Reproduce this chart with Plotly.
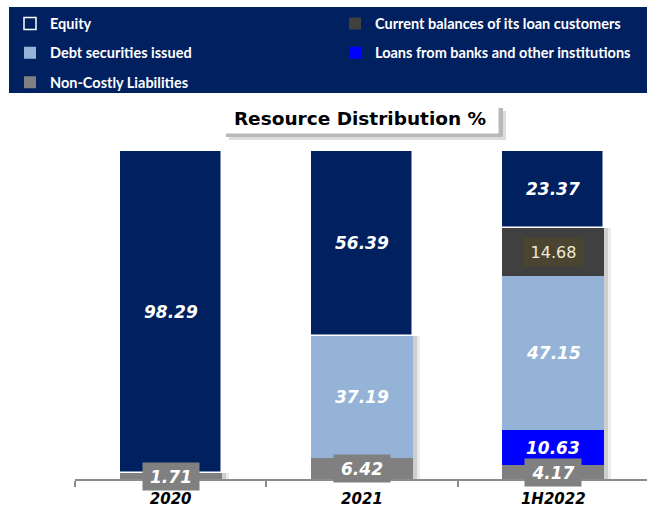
import numpy as np
import plotly.graph_objects as go

# Resource distribution (% of total resources), stacked bottom to top
periods = ["2020", "2021", "1H2022"]
non_costly = [1.71, 6.42, 4.17]
loans_banks = [0.0, 0.0, 10.63]
debt_securities = [0.0, 37.19, 47.15]
current_balances = [0.0, 0.0, 14.68]
equity = [98.29, 56.39, 23.37]

series_names = [
    "Non-Costly Liabilities",
    "Loans from banks and other institutions",
    "Debt securities issued",
    "Current balances of its loan customers",
    "Equity",
]
series_values = [non_costly, loans_banks, debt_securities, current_balances, equity]

NAVY = "#002060"
colors = ["#808080", "#0000ff", "#95b3d7", "#404040", NAVY]
legend_of = ["legend", "legend2", "legend", "legend2", "legend"]
legend_rank = [3, 2, 2, 1, 1]

# page geometry (px)
W, H = 647, 508
ML, MR, MT, MB = 75, 0, 151, 29
PW, PH = W - ML - MR, H - MT - MB
X_RANGE = [-0.5, 2.49]
UPX = (X_RANGE[1] - X_RANGE[0]) / PW  # axis units per pixel
BAR_W = 0.533


def paper_x(px):
    return (px - ML) / PW


def paper_y(py):
    return (H - MB - py) / PH


FONT = "Verdana, DejaVu Sans, sans-serif"

fig = go.Figure()

# soft drop shadow behind the non-equity part of each column
shadow_h = [100 - e for e in equity]
for shift, alpha in [(7, 0.08), (4, 0.12)]:
    fig.add_trace(go.Bar(
        x=periods, y=shadow_h, base=[0] * len(periods),
        width=BAR_W, offset=-BAR_W / 2 + shift * UPX,
        marker=dict(color=f"rgba(0,0,0,{alpha})", line=dict(width=0)),
        showlegend=False, hoverinfo="skip",
    ))

# stacked segments
bases = np.zeros(len(periods))
seg_bases = []
for name, vals, col, lg, rk in zip(series_names, series_values, colors,
                                   legend_of, legend_rank):
    vals = np.array(vals, dtype=float)
    seg_bases.append(bases.copy())
    is_equity = name == "Equity"
    fig.add_trace(go.Bar(
        x=periods, y=vals, base=bases.copy(), name=name,
        width=BAR_W, offset=-BAR_W / 2,
        marker=dict(color=col,
                    line=dict(color="white", width=1.5 if is_equity else 0)),
        legend=lg, legendgroup=name, legendrank=rk,
    ))
    bases = bases + vals

# value labels (x given as category index)
annotations = []
for name, vals, base in zip(series_names, series_values, seg_bases):
    for i, (v, b) in enumerate(zip(vals, base)):
        if v <= 0:
            continue
        ann = dict(
            x=i, y=b + v / 2, xref="x", yref="y",
            text=f"{v:.2f}", showarrow=False,
            font=dict(family=FONT, size=17, color="white",
                      weight="bold", style="italic"),
        )
        if name == "Non-Costly Liabilities":
            ann.update(bgcolor="#808080", width=52, height=23, borderpad=2)
        elif name == "Current balances of its loan customers":
            ann.update(bgcolor="#4b4431", width=55, height=24, borderpad=2,
                       font=dict(family=FONT, size=16, color="#f0ead6"))
        annotations.append(ann)

# chart title in a framed box
annotations.append(dict(
    x=paper_x(360), y=paper_y(118.5), xref="paper", yref="paper",
    text="Resource Distribution %", showarrow=False,
    font=dict(family=FONT, size=18.5, color="black", weight="bold"),
    bgcolor="white", width=270, height=23, borderpad=3,
    xanchor="center", yanchor="middle",
))

shapes = [
    # legend banner
    dict(type="rect", xref="paper", yref="paper", layer="below",
         x0=paper_x(9), x1=paper_x(W), y0=paper_y(93), y1=paper_y(7),
         fillcolor=NAVY, line=dict(width=0)),
    # title box shadow
    dict(type="rect", xref="paper", yref="paper", layer="above",
         x0=paper_x(229), x1=paper_x(506), y0=paper_y(140), y1=paper_y(111),
         fillcolor="#dcdcdc", line=dict(width=0)),
    dict(type="rect", xref="paper", yref="paper", layer="above",
         x0=paper_x(226), x1=paper_x(503), y0=paper_y(137), y1=paper_y(108),
         fillcolor="#b8b8b8", line=dict(width=0)),
]

legend_common = dict(
    bgcolor="rgba(0,0,0,0)", borderwidth=0,
    font=dict(family="Lato, Open Sans, sans-serif", size=14.5,
              color="white", weight="bold"),
    orientation="v", traceorder="grouped", tracegroupgap=7.5,
    itemwidth=30, xanchor="left", yanchor="top", itemclick=False,
)

fig.update_layout(
    width=W, height=H,
    margin=dict(l=ML, r=MR, t=MT, b=MB, pad=0),
    paper_bgcolor="white", plot_bgcolor="white",
    barmode="overlay", bargap=0,
    showlegend=True,
    legend=dict(x=paper_x(10), y=paper_y(7.5), **legend_common),
    legend2=dict(x=paper_x(335), y=paper_y(7.5), **legend_common),
    xaxis=dict(
        type="category", range=X_RANGE, tickson="boundaries",
        ticks="outside", ticklen=6, tickwidth=1.5, tickcolor="#8c8c8c",
        showline=True, linecolor="#8c8c8c", linewidth=1.5,
        showgrid=False, zeroline=False, ticklabelstandoff=5,
        tickfont=dict(family=FONT, size=15, color="black",
                      weight="bold", style="italic"),
    ),
    yaxis=dict(range=[0, 100], visible=False, showgrid=False, zeroline=False),
    annotations=annotations,
    shapes=shapes,
)

fig.write_html("out.html")
